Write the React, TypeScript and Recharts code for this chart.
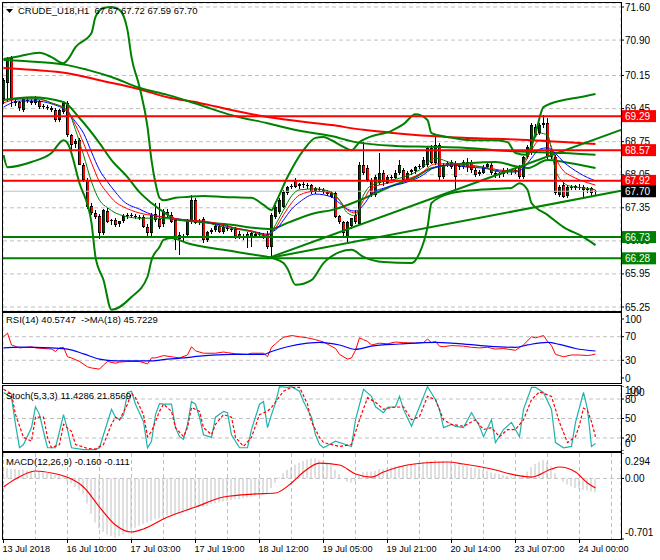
import React from "react";
import {
  ComposedChart,
  Bar,
  Line,
  XAxis,
  YAxis,
  CartesianGrid,
  ReferenceLine,
} from "recharts";

const FONT = "'Liberation Sans', Arial, sans-serif";

// time axis: one label every 16 hourly bars, grid every 8
const timeLabels = [
  "13 Jul 2018",
  "16 Jul 10:00",
  "17 Jul 03:00",
  "17 Jul 19:00",
  "18 Jul 12:00",
  "19 Jul 05:00",
  "19 Jul 21:00",
  "20 Jul 14:00",
  "23 Jul 07:00",
  "24 Jul 00:00",
];
const LABEL_STEP = 16;
const gridTicks = [0, 8, 16, 24, 32, 40, 48, 56, 64, 72, 80, 88, 96, 104, 112, 120, 128, 136, 144, 152];
const X_DOMAIN: [number, number] = [-0.125, 154.375];

// CRUDE_U18 H1 candles
const opens = [
  69.65, 70.0, 70.52, 69.62, 69.58, 69.42, 69.64, 69.62, 69.57, 69.62,
  69.5, 69.48, 69.46, 69.42, 69.21, 69.38, 69.57, 68.89, 68.69, 68.78,
  68.26, 67.94, 67.39, 67.24, 67.17, 66.82, 67.28, 67.07, 67.09, 66.99,
  67.06, 67.16, 67.19, 67.17, 67.15, 67.16, 66.95, 66.82, 67.22, 67.12,
  67.0, 67.26, 67.2, 67.09, 66.78, 66.74, 66.77, 67.05, 67.51, 67.06,
  67.11, 66.67, 66.84, 66.88, 66.97, 66.83, 66.93, 66.9, 66.9, 66.8,
  66.74, 66.8, 66.71, 66.76, 66.79, 66.77, 66.8, 66.52, 67.15, 67.26,
  67.37, 67.66, 67.78, 67.94, 67.8, 67.85, 67.82, 67.83, 67.7, 67.75,
  67.72, 67.68, 67.58, 67.66, 67.17, 67.05, 66.71, 66.96, 67.2, 67.02,
  68.26, 68.2, 67.94, 67.62, 67.88, 68.09, 67.88, 68.0, 67.99, 68.09,
  68.15, 67.94, 68.1, 68.12, 68.21, 68.21, 68.26, 68.62, 68.3, 68.68,
  68.0, 68.27, 68.32, 68.3, 68.21, 68.21, 68.32, 68.32, 68.15, 68.06,
  68.1, 68.22, 68.26, 68.08, 68.04, 68.06, 68.14, 68.12, 68.15, 68.21,
  68.0, 68.42, 68.51, 69.06, 68.93, 69.1, 69.14, 68.57, 68.42, 67.62,
  67.83, 67.6, 67.79, 67.77, 67.8, 67.79, 67.72, 67.76, 67.67,
];
const highs = [
  70.1, 70.55, 70.56, 69.66, 69.62, 69.7, 69.68, 69.66, 69.71, 69.64,
  69.55, 69.52, 69.5, 69.46, 69.45, 69.62, 69.62, 68.92, 68.8, 68.82,
  68.3, 67.98, 67.45, 67.3, 67.22, 67.32, 67.34, 67.12, 67.13, 67.08,
  67.22, 67.24, 67.24, 67.22, 67.2, 67.2, 67.0, 67.25, 67.45, 67.45,
  67.33, 67.33, 67.26, 67.14, 66.84, 66.8, 67.12, 67.62, 67.55, 67.12,
  67.16, 66.86, 66.93, 67.0, 67.0, 66.98, 66.98, 66.95, 66.94, 66.86,
  66.8, 66.84, 66.84, 66.83, 66.84, 66.82, 66.86, 67.24, 67.4, 67.55,
  67.72, 67.82, 67.85, 67.98, 67.88, 67.9, 67.88, 67.86, 67.8, 67.78,
  67.76, 67.72, 67.7, 67.7, 67.2, 67.08, 67.08, 67.14, 67.3, 68.32,
  68.74, 68.26, 67.98, 68.05, 68.51, 68.16, 68.04, 68.05, 68.14, 68.36,
  68.2, 68.12, 68.18, 68.24, 68.28, 68.42, 68.66, 68.68, 68.87, 68.72,
  68.3, 68.34, 68.36, 68.34, 68.26, 68.36, 68.4, 68.36, 68.2, 68.14,
  68.26, 68.32, 68.3, 68.12, 68.1, 68.2, 68.2, 68.18, 68.2, 68.26,
  68.45, 68.68, 69.14, 69.12, 69.14, 69.32, 69.25, 68.62, 68.46, 67.84,
  67.9, 67.84, 67.84, 67.84, 67.86, 67.84, 67.78, 67.8, 67.72,
];
const lows = [
  69.55, 69.6, 69.48, 69.52, 69.4, 69.39, 69.58, 69.54, 69.52, 69.46,
  69.44, 69.42, 69.38, 69.17, 69.18, 69.34, 68.86, 68.55, 68.62, 68.24,
  67.9, 67.33, 67.2, 67.1, 66.69, 66.78, 67.03, 67.0, 66.93, 66.96,
  67.02, 67.12, 67.13, 67.11, 67.1, 66.92, 66.73, 66.76, 67.05, 66.9,
  66.95, 67.14, 67.02, 66.46, 66.36, 66.66, 66.72, 67.0, 67.0, 67.0,
  66.62, 66.63, 66.8, 66.84, 66.8, 66.8, 66.86, 66.84, 66.68, 66.7,
  66.68, 66.5, 66.52, 66.7, 66.72, 66.7, 66.48, 66.29, 67.1, 67.22,
  67.33, 67.62, 67.74, 67.76, 67.76, 67.78, 67.76, 67.64, 67.66, 67.68,
  67.64, 67.6, 67.55, 67.12, 67.0, 66.74, 66.63, 66.9, 67.0, 66.98,
  68.05, 67.9, 67.58, 67.58, 67.84, 67.83, 67.84, 67.92, 67.95, 68.05,
  67.9, 67.9, 68.05, 68.08, 68.18, 68.18, 68.22, 68.28, 68.26, 67.94,
  67.96, 68.22, 68.18, 67.7, 68.16, 68.18, 68.1, 68.09, 68.0, 68.02,
  68.06, 68.18, 68.05, 67.98, 67.98, 68.02, 68.08, 68.06, 68.08, 67.96,
  67.96, 68.38, 68.46, 68.85, 68.88, 69.05, 68.38, 68.38, 67.62, 67.58,
  67.56, 67.56, 67.74, 67.73, 67.74, 67.55, 67.66, 67.62, 67.59,
];
const closes = [
  70.05, 70.5, 69.63, 69.57, 69.46, 69.66, 69.62, 69.57, 69.66, 69.5,
  69.47, 69.45, 69.41, 69.21, 69.42, 69.57, 68.89, 68.68, 68.76, 68.26,
  67.94, 67.37, 67.24, 67.15, 66.82, 67.3, 67.05, 67.1, 66.99, 67.06,
  67.17, 67.19, 67.17, 67.15, 67.16, 66.95, 66.82, 67.2, 67.09, 66.95,
  67.28, 67.2, 67.06, 66.67, 66.7, 66.71, 67.09, 67.51, 67.03, 67.08,
  66.67, 66.84, 66.89, 66.97, 66.84, 66.94, 66.9, 66.88, 66.71, 66.73,
  66.76, 66.71, 66.81, 66.8, 66.77, 66.75, 66.52, 67.2, 67.37, 67.51,
  67.68, 67.79, 67.81, 67.8, 67.85, 67.82, 67.84, 67.68, 67.76, 67.72,
  67.68, 67.64, 67.66, 67.15, 67.04, 66.82, 67.05, 67.13, 67.05, 68.26,
  68.09, 67.94, 67.62, 68.0, 68.09, 67.9, 68.0, 67.98, 68.09, 68.26,
  67.94, 68.09, 68.14, 68.21, 68.24, 68.36, 68.62, 68.3, 68.68, 68.0,
  68.26, 68.3, 68.21, 68.0, 68.23, 68.32, 68.22, 68.15, 68.04, 68.1,
  68.22, 68.28, 68.09, 68.04, 68.06, 68.15, 68.12, 68.15, 68.12, 68.0,
  68.42, 68.64, 69.1, 68.89, 69.1, 69.14, 68.42, 68.42, 67.66, 67.79,
  67.58, 67.79, 67.76, 67.81, 67.77, 67.72, 67.75, 67.66, 67.7,
];

// fast moving averages (thin lines), read at these bars
const fastBars = [
  0, 4, 8, 12, 16, 18, 20, 22, 24, 26, 28, 30, 34, 38, 42, 46, 50, 54, 58, 62,
  66, 67, 68, 70, 72, 74, 78, 82, 84, 86, 88, 90, 92, 96, 100, 104, 108, 112,
  116, 120, 124, 128, 130, 132, 134, 136, 138, 140, 142, 144, 146, 148,
];
const fastBlue = [
  69.48, 69.61, 69.61, 69.55, 69.38, 69.17, 68.93, 68.53, 68.15, 67.9, 67.68,
  67.49, 67.32, 67.18, 67.13, 67.09, 67.05, 66.99, 66.92, 66.86, 66.79, 66.84,
  66.88, 67.09, 67.32, 67.47, 67.64, 67.58, 67.45, 67.32, 67.28, 67.41, 67.64,
  67.79, 67.87, 68.0, 68.21, 68.26, 68.21, 68.19, 68.13, 68.11, 68.19, 68.4,
  68.59, 68.62, 68.5, 68.32, 68.19, 68.08, 67.99, 67.92,
];
const fastRed = [
  69.57, 69.65, 69.65, 69.57, 69.38, 69.1, 68.72, 68.3, 67.9, 67.66, 67.47,
  67.37, 67.24, 67.18, 67.13, 67.09, 67.07, 67.01, 66.92, 66.86, 66.77, 66.82,
  66.92, 67.2, 67.45, 67.62, 67.7, 67.66, 67.51, 67.3, 67.24, 67.51, 67.77,
  67.87, 67.94, 68.06, 68.28, 68.28, 68.23, 68.21, 68.15, 68.13, 68.26, 68.57,
  68.78, 68.78, 68.4, 68.13, 68.02, 67.94, 67.88, 67.83,
];
const fastGreen = [
  69.63, 69.67, 69.67, 69.57, 69.42, 69.0, 68.47, 67.9, 67.51, 67.35, 67.24,
  67.18, 67.13, 67.13, 67.11, 67.07, 67.05, 66.96, 66.9, 66.84, 66.75, 66.84,
  66.99, 67.3, 67.6, 67.73, 67.75, 67.68, 67.51, 67.24, 67.18, 67.62, 67.83,
  67.92, 68.0, 68.15, 68.4, 68.3, 68.26, 68.21, 68.11, 68.11, 68.3, 68.68,
  68.93, 68.89, 68.15, 67.88, 67.8, 67.78, 67.76, 67.73,
];

// slow moving averages (thick lines)
const slowRedBars = [0, 7, 16, 24, 34, 41, 49, 57, 66, 82, 90, 98, 107, 115, 123, 132, 140, 148];
const slowRed = [
  70.31, 70.27, 70.2, 70.05, 69.86, 69.69, 69.57, 69.42, 69.27, 69.1, 69.0,
  68.93, 68.87, 68.83, 68.81, 68.78, 68.74, 68.7,
];
const slowGreenBars = [0, 4, 16, 21, 27, 34, 41, 49, 57, 66, 74, 82, 88, 98, 107, 115, 123, 132, 140, 148];
const slowGreen = [
  70.48, 70.46, 70.37, 70.27, 70.12, 69.89, 69.74, 69.53, 69.31, 69.14, 68.98,
  68.87, 68.74, 68.66, 68.64, 68.62, 68.57, 68.53, 68.51, 68.47,
];

// bollinger bands
const bbUpperBars = [
  0, 4, 9, 12, 15, 16, 18, 22, 23, 25, 27, 29, 31, 32, 34, 36, 37, 38, 39, 40,
  43, 46, 50, 55, 62, 65, 67, 68, 71, 75, 78, 80, 82, 85, 87, 89, 91, 97, 100,
  103, 106, 107, 111, 117, 123, 126, 128, 131, 133, 135, 140, 144, 148,
];
const bbUpper = [
  70.5, 70.56, 70.63, 70.54, 70.41, 70.48, 70.75, 71.05, 71.39, 71.58, 71.6,
  71.54, 71.11, 70.54, 69.91, 69.06, 68.36, 67.87, 67.56, 67.51, 67.56, 67.58,
  67.6, 67.58, 67.56, 67.41, 67.3, 67.45, 68.0, 68.57, 68.83, 68.85, 68.78,
  68.64, 68.57, 68.74, 68.83, 68.98, 69.12, 69.33, 69.21, 68.93, 68.85, 68.78,
  68.78, 68.74, 68.51, 68.47, 68.93, 69.48, 69.63, 69.69, 69.76,
];
const bbMidBars = [
  0, 7, 15, 19, 24, 27, 31, 34, 37, 40, 43, 49, 57, 63, 67, 71, 78, 82, 89, 93,
  97, 103, 107, 117, 123, 128, 131, 136, 140, 148,
];
const bbMid = [
  69.63, 69.69, 69.59, 69.25, 68.72, 68.36, 68.0, 67.68, 67.45, 67.26, 67.11,
  67.05, 66.99, 66.92, 66.9, 67.03, 67.24, 67.3, 67.51, 67.66, 67.81, 68.0,
  68.19, 68.3, 68.32, 68.23, 68.19, 68.36, 68.32, 68.19,
];
const bbLowerBars = [
  0, 1, 7, 12, 15, 16, 19, 22, 23, 25, 27, 32, 36, 37, 39, 40, 42, 46, 55, 63,
  67, 70, 71, 73, 77, 80, 84, 87, 90, 95, 102, 104, 106, 107, 112, 119, 127,
  129, 131, 132, 136, 140, 145, 148,
];
const bbLower = [
  68.47, 68.21, 68.32, 68.51, 68.78, 68.72, 67.87, 67.03, 66.31, 65.82, 65.19,
  65.46, 65.89, 66.24, 66.52, 66.67, 66.71, 66.6, 66.46, 66.35, 66.29, 66.18,
  66.06, 65.72, 65.82, 66.18, 66.41, 66.46, 66.31, 66.2, 66.18, 66.39, 66.94,
  67.45, 67.66, 67.73, 67.77, 67.87, 67.73, 67.45, 67.2, 66.94, 66.73, 66.56,
];

// drawn levels and trend lines
const redLevels = [69.29, 68.57, 67.92];
const greenLevels = [66.73, 66.28];
const bidPrice = 67.7;
const trendStart = { bar: 66, price: 66.28 };
const trendEnds = [
  { bar: 154.375, price: 67.71 },
  { bar: 154.375, price: 69.0 },
];
const priceTicks = [71.6, 70.9, 70.15, 69.45, 68.75, 68.05, 67.35, 66.65, 65.95, 65.25];
const PRICE_DOMAIN: [number, number] = [65.165, 71.685];

// RSI(14) and its MA(18)
const rsiBars = [
  0, 1, 2, 4, 7, 8, 12, 13, 14, 15, 16, 17, 19, 21, 22, 24, 25, 26, 28, 29, 31,
  34, 36, 37, 38, 40, 42, 44, 46, 47, 48, 50, 53, 55, 56, 58, 61, 62, 65, 66,
  67, 68, 69, 70, 72, 74, 76, 78, 79, 80, 83, 84, 86, 87, 88, 89, 90, 91, 92,
  94, 96, 98, 100, 103, 105, 106, 107, 108, 109, 110, 112, 115, 117, 119, 121,
  123, 125, 128, 130, 132, 133, 134, 135, 136, 137, 138, 139, 140, 142, 144,
  146, 147, 148,
];
const rsiVals = [
  70, 76, 56, 51, 53, 51, 49, 45, 51, 52, 36, 34, 28, 19, 17, 15, 22, 28, 25,
  27, 28, 28, 24, 34, 34, 38, 36, 34, 39, 53, 46, 42, 42, 44, 43, 41, 40, 42,
  42, 36, 52, 58, 64, 69, 72, 70, 68, 65, 63, 61, 50, 40, 32, 34, 47, 68, 65,
  62, 56, 59, 58, 61, 60, 59, 60, 66, 60, 62, 54, 53, 55, 54, 52, 51, 52, 49,
  50, 47, 56, 70, 68, 70, 72, 62, 55, 40, 38, 36, 39, 39, 38, 39, 40.57,
];
const rsiMaBars = [0, 4, 12, 16, 20, 24, 28, 37, 41, 45, 49, 57, 65, 67, 71, 76, 79, 84, 88, 92, 99, 108, 113, 121, 128, 131, 136, 139, 143, 148];
const rsiMaVals = [
  51, 52.5, 51, 49, 41, 32, 29, 29, 32, 34, 37, 40, 40, 45, 53, 59, 60.5, 56,
  48.6, 54, 57.6, 60.5, 58.8, 54, 52, 56, 60.5, 57, 50, 45.72,
];
const rsiLevels = [70, 30];

// Stochastic(5,3,3)
const stochBars = [
  0, 2, 3, 4, 5, 7, 8, 9, 10, 11, 13, 14, 15, 16, 17, 20, 23, 24, 25, 27, 28,
  29, 30, 31, 32, 33, 35, 36, 37, 38, 39, 40, 42, 43, 44, 45, 46, 47, 48, 49,
  50, 52, 53, 55, 56, 57, 59, 61, 62, 64, 65, 66, 67, 68, 69, 71, 72, 74, 75,
  77, 78, 79, 80, 83, 87, 88, 90, 92, 93, 95, 96, 98, 99, 100, 102, 104, 106,
  108, 109, 110, 112, 113, 115, 117, 119, 120, 122, 123, 125, 127, 129, 130,
  132, 133, 135, 137, 138, 140, 142, 143, 145, 146, 147, 148,
];
const stochMain = [
  90, 82, 41, 5, 10, 36, 68, 56, 30, 5, 5, 30, 56, 33, 5, 2, 2, 5, 25, 64, 52,
  48, 55, 90, 92, 72, 45, 5, 15, 56, 73, 72, 72, 36, 22, 18, 41, 76, 72, 52, 25,
  21, 52, 61, 59, 25, 5, 5, 33, 72, 76, 36, 56, 74, 99, 98, 99, 92, 76, 52, 25,
  10, 5, 15, 7, 48, 95, 84, 68, 59, 67, 68, 84, 64, 38, 68, 99, 79, 64, 36, 41,
  38, 36, 59, 38, 22, 48, 13, 33, 44, 22, 64, 98, 98, 90, 64, 13, 5, 7, 44, 90,
  64, 7, 11.43,
];
const stochSigBars = [
  0, 2, 3, 5, 7, 8, 10, 11, 12, 14, 15, 17, 18, 21, 23, 25, 27, 28, 29, 31, 32,
  33, 35, 36, 37, 39, 40, 42, 43, 45, 46, 47, 49, 50, 52, 53, 55, 57, 58, 60,
  62, 64, 66, 67, 70, 72, 74, 76, 77, 79, 80, 84, 87, 89, 91, 93, 95, 97, 100,
  102, 104, 106, 108, 110, 112, 115, 118, 120, 122, 124, 126, 128, 130, 132,
  134, 137, 139, 141, 143, 144, 145, 146, 147, 148,
];
const stochSignal = [
  95, 88, 56, 21, 15, 52, 52, 21, 5, 10, 41, 30, 10, 4, 3, 10, 41, 52, 48, 72,
  89, 82, 56, 22, 30, 61, 72, 61, 36, 22, 36, 67, 61, 36, 25, 41, 56, 52, 21, 7,
  21, 56, 61, 67, 92, 98, 98, 72, 45, 21, 13, 7, 10, 48, 82, 75, 64, 67, 68, 48,
  53, 84, 79, 48, 41, 38, 48, 33, 36, 22, 33, 33, 48, 79, 91, 84, 44, 13, 22,
  40, 66, 62, 45, 21.86,
];
const stochLevels = [80, 50, 20];

// MACD(12,26,9): main as histogram, signal as line
const macdHist = [
  0.12, 0.12, 0.11, 0.11, 0.1, 0.1, 0.09, 0.09, 0.08, 0.08,
  0.07, 0.06, 0.05, 0.04, 0.03, 0.02, -0.03, -0.06, -0.1, -0.14,
  -0.18, -0.29, -0.41, -0.51, -0.58, -0.62, -0.65, -0.67, -0.69, -0.67,
  -0.65, -0.62, -0.59, -0.57, -0.55, -0.53, -0.51, -0.49, -0.47, -0.46,
  -0.44, -0.43, -0.42, -0.42, -0.41, -0.4, -0.38, -0.35, -0.34, -0.33,
  -0.33, -0.32, -0.3, -0.29, -0.28, -0.27, -0.26, -0.25, -0.24, -0.24,
  -0.23, -0.22, -0.21, -0.2, -0.19, -0.18, -0.17, -0.11, -0.05, 0.01,
  0.06, 0.1, 0.13, 0.16, 0.18, 0.2, 0.22, 0.23, 0.23, 0.21,
  0.2, 0.18, 0.15, 0.1, 0.05, 0.0, -0.04, -0.05, -0.03, 0.03,
  0.07, 0.08, 0.08, 0.09, 0.11, 0.11, 0.12, 0.13, 0.14, 0.15,
  0.15, 0.16, 0.16, 0.17, 0.18, 0.19, 0.2, 0.2, 0.21, 0.2,
  0.2, 0.19, 0.18, 0.17, 0.16, 0.15, 0.14, 0.13, 0.12, 0.11,
  0.1, 0.09, 0.07, 0.06, 0.05, 0.04, 0.03, 0.02, 0.02, 0.01,
  0.04, 0.08, 0.13, 0.17, 0.19, 0.21, 0.19, 0.14, 0.06, 0.0,
  -0.04, -0.07, -0.09, -0.11, -0.12, -0.13, -0.14, -0.15, -0.16,
];
const macdSigBars = [0, 3, 8, 12, 17, 20, 24, 28, 32, 35, 41, 48, 55, 63, 68, 72, 75, 79, 84, 88, 92, 95, 101, 105, 111, 115, 122, 128, 132, 137, 139, 143, 146, 148];
const macdSignal = [
  -0.099, -0.007, 0.086, 0.063, -0.007, -0.099, -0.331, -0.539, -0.62, -0.585,
  -0.447, -0.331, -0.215, -0.18, -0.169, -0.053, 0.074, 0.178, 0.155, 0.051,
  0.016, 0.074, 0.155, 0.178, 0.19, 0.167, 0.109, 0.039, 0.016, 0.109, 0.132,
  0.074, -0.053, -0.111,
];

function toMap(bars: number[], vals: number[]) {
  const m = new Map<number, number>();
  bars.forEach((b, k) => m.set(b, vals[k]));
  return m;
}
const at = (m: Map<number, number>, i: number) => (m.has(i) ? (m.get(i) as number) : null);

const mBlue = toMap(fastBars, fastBlue);
const mRed = toMap(fastBars, fastRed);
const mGreen = toMap(fastBars, fastGreen);
const mSlowRed = toMap(slowRedBars, slowRed);
const mSlowGreen = toMap(slowGreenBars, slowGreen);
const mUp = toMap(bbUpperBars, bbUpper);
const mMid = toMap(bbMidBars, bbMid);
const mLow = toMap(bbLowerBars, bbLower);
const mRsi = toMap(rsiBars, rsiVals);
const mRsiMa = toMap(rsiMaBars, rsiMaVals);
const mSto = toMap(stochBars, stochMain);
const mStoSig = toMap(stochSigBars, stochSignal);
const mMacdSig = toMap(macdSigBars, macdSignal);

const mainRows = opens.map((o, i) => ({
  i,
  o,
  h: highs[i],
  l: lows[i],
  c: closes[i],
  blue: at(mBlue, i),
  red: at(mRed, i),
  green: at(mGreen, i),
  slowRed: at(mSlowRed, i),
  slowGreen: at(mSlowGreen, i),
  up: at(mUp, i),
  mid: at(mMid, i),
  low: at(mLow, i),
}));
const rsiRows = opens.map((_, i) => ({ i, rsi: at(mRsi, i), ma: at(mRsiMa, i) }));
const stochRows = opens.map((_, i) => ({ i, main: at(mSto, i), sig: at(mStoSig, i) }));
const macdRows = macdHist.map((hist, i) => ({ i, hist, sig: at(mMacdSig, i) }));

const GREEN = "#008000";
const RED = "#ff0000";
const GRID = "#c0c0c0";

function Candle(props: any) {
  const { x, y, width, height, payload } = props;
  if (!payload || payload.h == null) return null;
  const { o, h, l, c } = payload;
  const top = Math.min(y, y + height);
  const span = Math.abs(height);
  const k = h > l ? span / (h - l) : 0;
  const yo = top + (h - o) * k;
  const yc = top + (h - c) * k;
  const bTop = Math.round(Math.min(yo, yc));
  const bH = Math.max(1, Math.round(Math.abs(yo - yc)));
  const px = Math.round(x + width / 2 - 0.5);
  const bull = c >= o;
  return (
    <g shapeRendering="crispEdges">
      <rect x={px} y={Math.round(top)} width={1} height={Math.max(1, Math.round(span))} fill="#000" />
      <rect x={px - 1} y={bTop} width={3} height={bH} fill="#000" />
      {bH > 2 && (
        <rect x={px} y={bTop + 1} width={2} height={bH - 2} fill={bull ? "#0d3a0d" : RED} />
      )}
    </g>
  );
}

function PriceTag(props: any) {
  const { viewBox, bg, text } = props;
  if (!viewBox) return null;
  const x = viewBox.x + viewBox.width;
  const y = viewBox.y;
  return (
    <g>
      <rect x={x + 1} y={y - 6} width={34} height={12} fill={bg} />
      <text x={x + 4} y={y} dy="0.36em" fontSize={10} fontFamily={FONT} fill="#fff">
        {text}
      </text>
    </g>
  );
}

function SideTick(props: any) {
  const { x, y, payload, nudges, fmt, ghost } = props;
  const v = payload.value;
  const dy = nudges && nudges[String(v)] != null ? nudges[String(v)] : 0;
  return (
    <g>
      <text x={x} y={y + dy} dy="0.355em" fontSize={10} fontFamily={FONT} fill="#000" textAnchor="start">
        {fmt(v)}
      </text>
      {ghost && ghost[String(v)] != null && (
        <text x={x + 3} y={y + dy + ghost[String(v)]} dy="0.355em" fontSize={10} fontFamily={FONT} fill="#000" textAnchor="start">
          {fmt(v)}
        </text>
      )}
    </g>
  );
}

function TimeTick(props: any) {
  const { x, y, payload } = props;
  const v = payload.value;
  if (v % LABEL_STEP !== 0) return null;
  const label = timeLabels[v / LABEL_STEP];
  if (!label) return null;
  return (
    <g>
      <line x1={x} x2={x} y1={y} y2={y + 4} stroke="#000" />
      <text x={x - 1} y={y + 13} fontSize={9.2} fontFamily={FONT} fill="#000" textAnchor="start">
        {label}
      </text>
    </g>
  );
}

function gridAxis() {
  return (
    <XAxis
      type="number"
      dataKey="i"
      domain={X_DOMAIN}
      ticks={gridTicks}
      allowDataOverflow
      height={0}
      tick={false}
      tickLine={false}
      axisLine={false}
    />
  );
}

function MainChart() {
  return (
    <ComposedChart width={660} height={313} data={mainRows} margin={{ top: 3, right: 0, bottom: 2, left: 3 }}>
      <CartesianGrid stroke={GRID} strokeDasharray="4 3" />
      {gridAxis()}
      <YAxis
        orientation="right"
        width={39}
        domain={PRICE_DOMAIN}
        ticks={priceTicks}
        interval={0}
        allowDataOverflow
        axisLine={false}
        tickLine={{ stroke: "#000" }}
        tickSize={3}
        tickMargin={1}
        tick={{ fontSize: 10, fill: "#000", fontFamily: FONT }}
        tickFormatter={(v: number) => v.toFixed(2)}
      />
      <ReferenceLine y={bidPrice} stroke={GRID} strokeWidth={1} />
      <Line dataKey="slowRed" stroke={RED} strokeWidth={2} dot={false} activeDot={false} connectNulls type="monotone" isAnimationActive={false} />
      <Line dataKey="slowGreen" stroke={GREEN} strokeWidth={2} dot={false} activeDot={false} connectNulls type="monotone" isAnimationActive={false} />
      <Line dataKey="up" stroke={GREEN} strokeWidth={2} dot={false} activeDot={false} connectNulls type="monotone" isAnimationActive={false} />
      <Line dataKey="mid" stroke={GREEN} strokeWidth={2} dot={false} activeDot={false} connectNulls type="monotone" isAnimationActive={false} />
      <Line dataKey="low" stroke={GREEN} strokeWidth={2} dot={false} activeDot={false} connectNulls type="monotone" isAnimationActive={false} />
      <Bar
        dataKey={(r: any) => [r.l, r.h]}
        barSize={4}
        shape={(p: any) => <Candle {...p} />}
        isAnimationActive={false}
      />
      <Line dataKey="blue" stroke="#0000ff" strokeWidth={1} dot={false} activeDot={false} connectNulls type="monotone" isAnimationActive={false} />
      <Line dataKey="red" stroke={RED} strokeWidth={1} dot={false} activeDot={false} connectNulls type="monotone" isAnimationActive={false} />
      <Line dataKey="green" stroke={GREEN} strokeWidth={1} dot={false} activeDot={false} connectNulls type="monotone" isAnimationActive={false} />
      {trendEnds.map((e, k) => (
        <ReferenceLine
          key={"t" + k}
          segment={[
            { x: trendStart.bar, y: trendStart.price },
            { x: e.bar, y: e.price },
          ]}
          stroke={GREEN}
          strokeWidth={2}
        />
      ))}
      {redLevels.map((v) => (
        <ReferenceLine key={"r" + v} y={v} stroke={RED} strokeWidth={2} />
      ))}
      {greenLevels.map((v) => (
        <ReferenceLine key={"g" + v} y={v} stroke={GREEN} strokeWidth={2} />
      ))}
    </ComposedChart>
  );
}

// price tags sit on their own layer so they cover the axis labels, as in the terminal
function PriceTagLayer() {
  return (
    <ComposedChart width={660} height={313} data={mainRows} margin={{ top: 3, right: 39, bottom: 2, left: 3 }}>
      {gridAxis()}
      <YAxis hide domain={PRICE_DOMAIN} allowDataOverflow />
      <Line dataKey="c" stroke="none" dot={false} activeDot={false} isAnimationActive={false} />
      {redLevels.map((v) => (
        <ReferenceLine key={"rt" + v} y={v} stroke="none" label={<PriceTag bg={RED} text={v.toFixed(2)} />} />
      ))}
      {greenLevels.map((v) => (
        <ReferenceLine key={"gt" + v} y={v} stroke="none" label={<PriceTag bg={GREEN} text={v.toFixed(2)} />} />
      ))}
      <ReferenceLine y={bidPrice} stroke="none" label={<PriceTag bg="#000" text={bidPrice.toFixed(2)} />} />
    </ComposedChart>
  );
}

function RsiChart() {
  return (
    <ComposedChart width={660} height={70} data={rsiRows} margin={{ top: 0, right: 0, bottom: 0, left: 3 }}>
      <CartesianGrid stroke={GRID} strokeDasharray="4 3" horizontal={false} />
      {gridAxis()}
      <YAxis
        orientation="right"
        width={39}
        domain={[-8.5, 110.2]}
        ticks={[100, 70, 30, 0]}
        interval={0}
        allowDataOverflow
        axisLine={false}
        tickLine={{ stroke: "#000" }}
        tickSize={3}
        tickMargin={1}
        tick={{ fontSize: 10, fill: "#000", fontFamily: FONT }}
      />
      {rsiLevels.map((v) => (
        <ReferenceLine key={v} y={v} stroke={GRID} strokeDasharray="4 3" />
      ))}
      <Line dataKey="rsi" stroke={RED} strokeWidth={1} dot={false} activeDot={false} connectNulls type="linear" isAnimationActive={false} />
      <Line dataKey="ma" stroke="#0000ff" strokeWidth={1.2} dot={false} activeDot={false} connectNulls type="monotone" isAnimationActive={false} />
    </ComposedChart>
  );
}

function StochChart() {
  return (
    <ComposedChart width={660} height={65} data={stochRows} margin={{ top: 0, right: 0, bottom: 0, left: 3 }}>
      <CartesianGrid stroke={GRID} strokeDasharray="4 3" horizontal={false} />
      {gridAxis()}
      <YAxis
        orientation="right"
        width={39}
        domain={[0, 100]}
        ticks={[100, 80, 50, 20, 0]}
        interval={0}
        allowDataOverflow
        axisLine={false}
        tickLine={{ stroke: "#000" }}
        tickSize={3}
        tickMargin={1}
        tick={(p: any) => (
          <SideTick {...p} nudges={{ "100": 4, "0": -8 }} ghost={{ "100": 2 }} fmt={(v: number) => String(v)} />
        )}
      />
      {stochLevels.map((v) => (
        <ReferenceLine key={v} y={v} stroke={GRID} strokeDasharray="4 3" />
      ))}
      <Line dataKey="main" stroke="#20b2aa" strokeWidth={1.2} dot={false} activeDot={false} connectNulls type="linear" isAnimationActive={false} />
      <Line dataKey="sig" stroke={RED} strokeWidth={1.2} strokeDasharray="3 2" dot={false} activeDot={false} connectNulls type="linear" isAnimationActive={false} />
    </ComposedChart>
  );
}

function MacdChart() {
  return (
    <ComposedChart width={660} height={107} data={macdRows} margin={{ top: 0, right: 0, bottom: 0, left: 3 }}>
      <CartesianGrid stroke={GRID} strokeDasharray="4 3" horizontal={false} />
      <XAxis
        type="number"
        dataKey="i"
        domain={X_DOMAIN}
        ticks={gridTicks}
        interval={0}
        allowDataOverflow
        height={21}
        tickSize={0}
        tickMargin={0}
        axisLine={false}
        tickLine={false}
        tick={(p: any) => <TimeTick {...p} />}
      />
      <YAxis
        orientation="right"
        width={39}
        domain={[-0.701, 0.294]}
        ticks={[0.294, 0, -0.701]}
        interval={0}
        allowDataOverflow
        axisLine={false}
        tickLine={{ stroke: "#000" }}
        tickSize={3}
        tickMargin={1}
        tick={(p: any) => (
          <SideTick
            {...p}
            nudges={{ "0.294": 8, "-0.701": -7 }}
            fmt={(v: number) => (v === 0 ? "0.00" : v.toFixed(3))}
          />
        )}
      />
      <ReferenceLine y={0} stroke={GRID} strokeDasharray="4 3" />
      <Bar dataKey="hist" fill="#c0c0c0" barSize={1} isAnimationActive={false} />
      <Line dataKey="sig" stroke={RED} strokeWidth={1.2} dot={false} activeDot={false} connectNulls type="monotone" isAnimationActive={false} />
    </ComposedChart>
  );
}

const frame = (top: number, height: number): React.CSSProperties => ({
  position: "absolute",
  left: 2,
  top,
  width: 620,
  height,
  border: "1px solid #000",
  boxSizing: "border-box",
  pointerEvents: "none",
});

const caption = (left: number, top: number): React.CSSProperties => ({
  position: "absolute",
  left,
  top,
  fontSize: 9.5,
  lineHeight: "12px",
  fontFamily: FONT,
  color: "#000",
  whiteSpace: "pre",
});

export default function App() {
  return (
    <div style={{ position: "relative", width: 660, height: 560, background: "#fff", overflow: "hidden" }}>
      <style>{"body{margin:0}"}</style>
      <div style={{ position: "absolute", left: 0, top: 0 }}>
        <MainChart />
      </div>
      <div style={{ position: "absolute", left: 0, top: 0, pointerEvents: "none" }}>
        <PriceTagLayer />
      </div>
      <div style={{ position: "absolute", left: 0, top: 313 }}>
        <RsiChart />
      </div>
      <div style={{ position: "absolute", left: 0, top: 386 }}>
        <StochChart />
      </div>
      <div style={{ position: "absolute", left: 0, top: 453 }}>
        <MacdChart />
      </div>

      <div style={frame(2, 310)} />
      <div style={frame(312, 72)} />
      <div style={frame(385, 67)} />
      <div style={frame(452, 88)} />

      <svg style={{ position: "absolute", left: 6, top: 9 }} width={8} height={5}>
        <polygon points="0,0 7,0 3.5,4" fill="#000" />
      </svg>
      <div style={caption(18, 5)}>{"CRUDE_U18,H1  67.67 67.72 67.59 67.70"}</div>
      <div style={caption(6, 314)}>{"RSI(14) 40.5747  ->MA(18) 45.7229"}</div>
      <div style={caption(6, 390)}>{"Stoch(5,3,3) 11.4286 21.8569"}</div>
      <div style={caption(6, 456)}>{"MACD(12,26,9) -0.160 -0.111"}</div>
    </div>
  );
}
